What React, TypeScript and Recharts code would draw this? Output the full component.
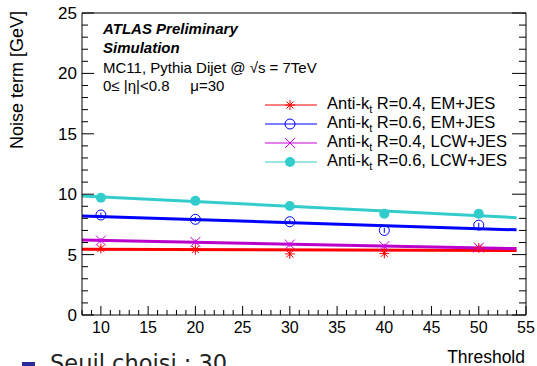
import React from 'react';
import { ComposedChart, Line, Scatter, XAxis, YAxis, ErrorBar } from 'recharts';

// measured points
const thresholds = [10, 20, 30, 40, 50];
const em04 = [5.5, 5.42, 5.06, 5.1, 5.56];
const em06 = [8.28, 7.92, 7.72, 7.0, 7.44];
const lcw04 = [6.17, 6.05, 5.83, 5.7, 5.58];
const lcw06 = [9.7, 9.45, 9.03, 8.39, 8.39];
const pointErr = [0.2, 0.2, 0.2, 0.2, 0.2];

// straight-line fits (ends)
const fitX = [8, 54];
const em04Fit = [5.45, 5.33];
const em06Fit = [8.2, 7.05];
const lcw04Fit = [6.2, 5.5];
const lcw06Fit = [9.86, 8.06];

const xTicks: number[] = [];
for (let i = 8; i <= 55; i++) xTicks.push(i);
const yTicks: number[] = [];
for (let i = 0; i <= 25; i++) yTicks.push(i);

const W = 537;
const H = 366;
const PL = 82;
const PR = 526;
const PT = 13;
const PB = 315;
const FONT = '"Liberation Sans", Arial, sans-serif';

const toPoints = (vals: number[]) => thresholds.map((x, i) => ({ x, y: vals[i], e: pointErr[i] }));
const toFit = (vals: number[]) => fitX.map((x, i) => ({ x, y: vals[i] }));

const series = [
  { name: 'R=0.4, EM+JES', color: '#ff0000', fitColor: '#ff0000', marker: 'star', pts: em04, fit: em04Fit },
  { name: 'R=0.6, EM+JES', color: '#0000ff', fitColor: '#0000ff', marker: 'circle', pts: em06, fit: em06Fit },
  { name: 'R=0.4, LCW+JES', color: '#cc00dd', fitColor: '#bb00cc', marker: 'cross', pts: lcw04, fit: lcw04Fit },
  { name: 'R=0.6, LCW+JES', color: '#33cccc', fitColor: '#33cccc', marker: 'dot', pts: lcw06, fit: lcw06Fit },
];

const Marker = ({ cx, cy, kind, color }: any) => {
  const r = 5;
  if (kind === 'star') {
    return (
      <g stroke={color} strokeWidth={1}>
        <line x1={cx - r} x2={cx + r} y1={cy} y2={cy} />
        <line x1={cx} x2={cx} y1={cy - r} y2={cy + r} />
        <line x1={cx - r * 0.7} x2={cx + r * 0.7} y1={cy - r * 0.7} y2={cy + r * 0.7} />
        <line x1={cx - r * 0.7} x2={cx + r * 0.7} y1={cy + r * 0.7} y2={cy - r * 0.7} />
      </g>
    );
  }
  if (kind === 'circle') return <circle cx={cx} cy={cy} r={r} fill="none" stroke={color} strokeWidth={1} />;
  if (kind === 'cross') {
    return (
      <g stroke={color} strokeWidth={1}>
        <line x1={cx - r} x2={cx + r} y1={cy - r} y2={cy + r} />
        <line x1={cx - r} x2={cx + r} y1={cy + r} y2={cy - r} />
      </g>
    );
  }
  return <circle cx={cx} cy={cy} r={r} fill={color} stroke="none" />;
};

const LeftTick = (props: any) => {
  const { y, payload } = props;
  const major = payload.value % 5 === 0;
  return (
    <g>
      <line x1={PL} x2={PL + (major ? 12 : 6)} y1={y} y2={y} stroke="#000" />
      {major && (
        <text x={PL - 5} y={y} dy={6} textAnchor="end" fontSize={17} fontFamily={FONT} fill="#000">
          {payload.value}
        </text>
      )}
    </g>
  );
};

const RightTick = (props: any) => {
  const { y, payload } = props;
  const major = payload.value % 5 === 0;
  return <line x1={PR} x2={PR - (major ? 14 : 7)} y1={y} y2={y} stroke="#000" />;
};

const BottomTick = (props: any) => {
  const { x, payload } = props;
  const major = payload.value % 5 === 0;
  return (
    <g>
      <line x1={x} x2={x} y1={PB} y2={PB - (major ? 9 : 5)} stroke="#000" />
      {major && (
        <text x={x} y={PB + 18} textAnchor="middle" fontSize={16} fontFamily={FONT} fill="#000">
          {payload.value}
        </text>
      )}
    </g>
  );
};

const TopTick = (props: any) => {
  const { x, payload } = props;
  const major = payload.value % 5 === 0;
  return <line x1={x} x2={x} y1={PT} y2={PT + (major ? 9 : 5)} stroke="#000" />;
};

const abs = (left: number, top: number, extra: React.CSSProperties = {}): React.CSSProperties => ({
  position: 'absolute',
  left,
  top,
  fontFamily: FONT,
  color: '#000',
  whiteSpace: 'nowrap',
  lineHeight: 1,
  ...extra,
});

export default function App() {
  return (
    <div style={{ position: 'absolute', left: 0, top: 0, width: W, height: H, overflow: 'hidden', background: '#fff' }}>
      <ComposedChart
        width={W}
        height={H}
        margin={{ top: PT - 1, right: W - PR - 1, bottom: H - PB - 30, left: PL - 40 }}
      >
        <XAxis
          xAxisId="x"
          dataKey="x"
          type="number"
          domain={[8, 55]}
          ticks={xTicks}
          interval={0}
          allowDataOverflow
          height={30}
          tickLine={false}
          tick={<BottomTick />}
          axisLine={{ stroke: '#000' }}
        />
        <XAxis
          xAxisId="xt"
          orientation="top"
          type="number"
          domain={[8, 55]}
          ticks={xTicks}
          interval={0}
          allowDataOverflow
          height={1}
          tickLine={false}
          tick={<TopTick />}
          axisLine={{ stroke: '#000' }}
        />
        <YAxis
          yAxisId="y"
          dataKey="y"
          type="number"
          domain={[0, 25]}
          ticks={yTicks}
          interval={0}
          allowDataOverflow
          width={40}
          tickLine={false}
          tick={<LeftTick />}
          axisLine={{ stroke: '#000' }}
        />
        <YAxis
          yAxisId="yr"
          orientation="right"
          type="number"
          domain={[0, 25]}
          ticks={yTicks}
          interval={0}
          allowDataOverflow
          width={1}
          tickLine={false}
          tick={<RightTick />}
          axisLine={{ stroke: '#000' }}
        />
        {series.map((s) => (
          <Line
            key={'fit' + s.name}
            xAxisId="x"
            yAxisId="y"
            data={toFit(s.fit)}
            dataKey="y"
            stroke={s.fitColor}
            strokeWidth={3}
            dot={false}
            activeDot={false}
            isAnimationActive={false}
          />
        ))}
        {series.map((s) => (
          <Scatter
            key={'pts' + s.name}
            xAxisId="x"
            yAxisId="y"
            data={toPoints(s.pts)}
            dataKey="y"
            isAnimationActive={false}
            shape={(p: any) => <Marker cx={p.cx} cy={p.cy} kind={s.marker} color={s.color} />}
          >
            <ErrorBar dataKey="e" direction="y" width={0} stroke={s.color} strokeWidth={1} />
          </Scatter>
        ))}
      </ComposedChart>

      {/* y axis title */}
      <div style={abs(17, 80, { fontSize: 18, transform: 'translate(-50%, -50%) rotate(-90deg)' })}>
        Noise term [GeV]
      </div>

      {/* annotations */}
      <div style={abs(103, 21, { fontSize: 15, fontWeight: 'bold', fontStyle: 'italic' })}>ATLAS Preliminary</div>
      <div style={abs(103, 40, { fontSize: 15, fontWeight: 'bold', fontStyle: 'italic' })}>Simulation</div>
      <div style={abs(103, 60, { fontSize: 15 })}>MC11, Pythia Dijet @ √s = 7TeV</div>
      <div style={abs(103, 78, { fontSize: 15 })}>
        0≤ |η|&lt;0.8&nbsp;&nbsp;&nbsp;&nbsp;&nbsp;μ=30
      </div>

      {/* legend */}
      {series.map((s, i) => (
        <div key={'leg' + s.name} style={abs(264, 96 + i * 19, { fontSize: 16.5, display: 'flex', alignItems: 'center', height: 18 })}>
          <svg width={56} height={14} style={{ marginRight: 7 }}>
            <line x1={1} x2={53} y1={7} y2={7} stroke={s.color} strokeWidth={1} />
            <Marker cx={26} cy={7} kind={s.marker} color={s.color} />
          </svg>
          <span>
            Anti-k<sub style={{ fontSize: 11, verticalAlign: -4 }}>t</sub> {s.name}
          </span>
        </div>
      ))}

      {/* x axis title */}
      <div style={abs(0, 349, { fontSize: 17.5, width: 525, textAlign: 'right' })}>Threshold</div>

      {/* slide text below, cut off */}
      <div style={abs(22, 362, { width: 13, height: 13, background: '#2a2a9a' })} />
      <div style={abs(50, 352, { fontSize: 22.5, fontFamily: '"DejaVu Sans", sans-serif', color: '#222' })}>
        Seuil choisi : 30
      </div>
    </div>
  );
}
